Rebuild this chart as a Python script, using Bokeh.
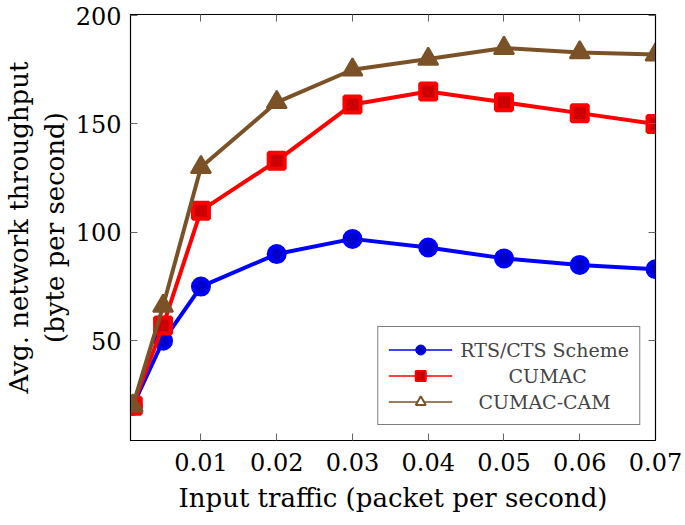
from bokeh.plotting import figure
from bokeh.models import Range1d, LinearAxis, FixedTicker, Legend, LegendItem, ColumnDataSource
from bokeh.embed import file_html
from bokeh.resources import INLINE

x = [0.001, 0.005, 0.01, 0.02, 0.03, 0.04, 0.05, 0.06, 0.07]
rts = [20, 50, 75, 90, 97, 93, 88, 85, 83]
cumac = [20, 57, 110, 133, 159, 165, 160, 155, 150]
cam = [20, 66, 130, 160, 175, 180, 185, 183, 182]
xticks = [0.01, 0.02, 0.03, 0.04, 0.05, 0.06, 0.07]
yticks = [50, 100, 150, 200]

FONT = "DejaVu Serif"
BLUE = "#0000ff"
RED = "#ff0000"
BROWN = "#7b5228"

p = figure(width=683, height=522, output_backend="svg", toolbar_location=None,
           x_range=Range1d(0.0007, 0.07), y_range=Range1d(4, 200.5),
           min_border_left=130, min_border_right=28, min_border_top=14, min_border_bottom=82)
p.grid.visible = False
p.outline_line_color = "black"
p.outline_line_width = 1.2

for ax in [p.xaxis[0], p.yaxis[0]]:
    ax.major_tick_in = 7
    ax.major_tick_out = 0
    ax.minor_tick_in = 0
    ax.minor_tick_out = 0
    ax.axis_line_color = "black"
    ax.major_tick_line_color = "#666666"
    ax.major_label_text_font = FONT
    ax.major_label_text_font_size = "24px"
    ax.major_label_text_color = "black"
    ax.axis_label_text_font = FONT
    ax.axis_label_text_font_size = "26px"
    ax.axis_label_text_font_style = "normal"
    ax.axis_label_text_color = "black"

p.xaxis[0].ticker = FixedTicker(ticks=xticks)
p.yaxis[0].ticker = FixedTicker(ticks=yticks)
p.xaxis[0].major_label_overrides = {t: f"{t:.2f}" for t in xticks}
p.xaxis[0].axis_label = "Input traffic (packet per second)"
p.yaxis[0].axis_label = "Avg. network throughput\n(byte per second)"
p.xaxis[0].axis_label_standoff = 9
p.xaxis[0].major_label_standoff = 12
p.yaxis[0].major_label_standoff = 9
p.yaxis[0].axis_label_standoff = 3

top = LinearAxis(ticker=FixedTicker(ticks=xticks), major_tick_in=7, major_tick_out=0,
                 minor_tick_in=0, minor_tick_out=0,
                 major_label_overrides={t: "" for t in xticks},
                 major_tick_line_color="#666666", axis_line_color="black")
right = LinearAxis(ticker=FixedTicker(ticks=yticks), major_tick_in=7, major_tick_out=0,
                   minor_tick_in=0, minor_tick_out=0,
                   major_label_overrides={t: "" for t in yticks},
                   major_tick_line_color="#666666", axis_line_color="black")
p.add_layout(top, "above")
p.add_layout(right, "right")

src = ColumnDataSource(dict(x=x, rts=rts, cumac=cumac, cam=cam))

p.line("x", "rts", source=src, color=BLUE, line_width=4)
p.scatter("x", "rts", source=src, marker="circle", size=16, fill_color="#0000cc", line_color=BLUE, line_width=4)
p.line("x", "cumac", source=src, color=RED, line_width=4)
p.scatter("x", "cumac", source=src, marker="square", size=16, fill_color="#cc0000", line_color=RED, line_width=4)
p.line("x", "cam", source=src, color=BROWN, line_width=4)
p.scatter("x", "cam", source=src, marker="triangle", size=20, fill_color=BROWN, line_color=BROWN, line_width=2)

dummy = ColumnDataSource(dict(x=[-1.0], y=[-1000.0]))
l1 = p.line("x", "y", source=dummy, color=BLUE, line_width=1.5)
m1 = p.scatter("x", "y", source=dummy, marker="circle", size=15, fill_color="#0000cc", line_color=BLUE)
l2 = p.line("x", "y", source=dummy, color=RED, line_width=1.5)
m2 = p.scatter("x", "y", source=dummy, marker="square", size=14, fill_color="#cc0000", line_color=RED, line_width=2)
l3 = p.line("x", "y", source=dummy, color=BROWN, line_width=1.5)
m3 = p.scatter("x", "y", source=dummy, marker="triangle", size=12, fill_color="white", line_color=BROWN, line_width=2)

NB = "\u00a0"
legend = Legend(items=[LegendItem(label="RTS/CTS Scheme", renderers=[l1, m1]),
                       LegendItem(label=NB * 8 + "CUMAC", renderers=[l2, m2]),
                       LegendItem(label=NB * 3 + "CUMAC-CAM", renderers=[l3, m3])],
                location="bottom_right", label_text_font=FONT, label_text_font_size="19px",
                border_line_color="black", border_line_width=1.2, background_fill_alpha=1,
                glyph_width=64, glyph_height=25, spacing=1, padding=10, margin=15,
                label_standoff=8, label_height=25)
p.add_layout(legend, "center")

open("out.html", "w").write(file_html(p, INLINE))
